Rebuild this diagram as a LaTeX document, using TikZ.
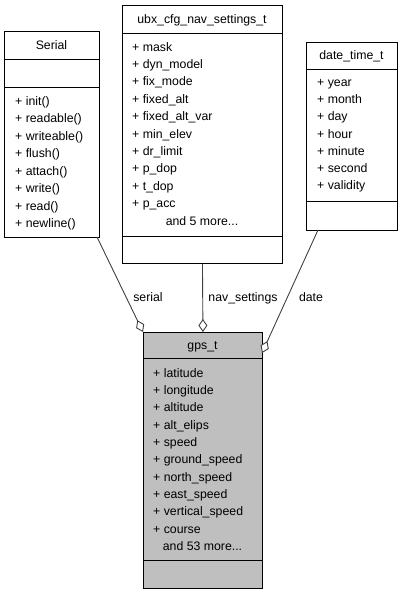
\documentclass[tikz,border=0pt]{standalone}
\usepackage{fontspec}
\setmainfont{Liberation Sans}
\usetikzlibrary{arrows.meta}
\definecolor{gpsgray}{HTML}{BFBFBF}
\definecolor{edgegray}{HTML}{404040}
\begin{document}
\begin{tikzpicture}[x=1pt,y=-1pt,
  sect/.style={draw=black, line width=0.9pt, fill=white, inner sep=0pt, anchor=north west},
  gsect/.style={sect, fill=gpsgray},
  item/.style={font=\fontsize{12.3}{14}\selectfont, inner sep=0pt, anchor=base west},
  ttl/.style={font=\fontsize{12.3}{14}\selectfont, inner sep=0pt, anchor=base},
  lbl/.style={font=\fontsize{12.3}{14}\selectfont, inner sep=0pt, anchor=base},
  assoc/.style={draw=edgegray, line width=0.9pt, {Diamond[open,length=13pt,width=9pt,fill=white]}-}
]
\useasboundingbox (0,0) rectangle (403,595);

% Serial
\node[sect, minimum width=95pt, minimum height=28pt] (serT) at (4,31) {};
\node[sect, minimum width=95pt, minimum height=28pt] (serA) at (4,59) {};
\node[sect, minimum width=95pt, minimum height=150pt] (serO) at (4,87) {};
\node[ttl] (serTt) at (51.5,49.5) {Serial};
\foreach \t [count=\i] in {init(),readable(),writeable(),flush(),attach(),write(),read(),newline()}
  \node[item] (serI\i) at (15,{105+(\i-1)*17.5}) {+ \t};

% ubx_cfg_nav_settings_t
\node[sect, minimum width=160pt, minimum height=28pt] (ubxT) at (122,5) {};
\node[sect, minimum width=160pt, minimum height=203pt] (ubxA) at (122,33) {};
\node[sect, minimum width=160pt, minimum height=27pt] (ubxO) at (122,236) {};
\node[ttl] (ubxTt) at (202,23.5) {ubx\_cfg\_nav\_settings\_t};
\foreach \t [count=\i] in {mask,dyn\_model,fix\_mode,fixed\_alt,fixed\_alt\_var,min\_elev,dr\_limit,p\_dop,t\_dop,p\_acc}
  \node[item] (ubxI\i) at (132,{51+(\i-1)*17.4}) {+ \t};
\node[ttl] (ubxM) at (202,225) {and 5 more...};

% date_time_t
\node[sect, minimum width=91pt, minimum height=27pt] (datT) at (306,42) {};
\node[sect, minimum width=91pt, minimum height=132pt] (datA) at (306,69) {};
\node[sect, minimum width=91pt, minimum height=29pt] (datO) at (306,201) {};
\node[ttl] (datTt) at (351.5,59.5) {date\_time\_t};
\foreach \t [count=\i] in {year,month,day,hour,minute,second,validity}
  \node[item] (datI\i) at (317,{86.5+(\i-1)*17.2}) {+ \t};

% gps_t
\node[gsect, minimum width=119pt, minimum height=26pt] (gpsT) at (143,332) {};
\node[gsect, minimum width=119pt, minimum height=202pt] (gpsA) at (143,358) {};
\node[gsect, minimum width=119pt, minimum height=28pt] (gpsO) at (143,560) {};
\node[ttl] (gpsTt) at (202.5,349.5) {gps\_t};
\foreach \t [count=\i] in {latitude,longitude,altitude,alt\_elips,speed,ground\_speed,north\_speed,east\_speed,vertical\_speed,course}
  \node[item] (gpsI\i) at (153,{377+(\i-1)*17.37}) {+ \t};
\node[ttl] (gpsM) at (202.5,550.5) {and 53 more...};

% connectors
\coordinate (serEnd) at (97,237);
\coordinate (datEnd) at (318,230);
\coordinate (gpsR) at (262,353);
\draw[assoc] (gpsT.north west) -- (serEnd);
\draw[assoc] (gpsT.north) -- (ubxO.south);
\draw[assoc] (gpsR) -- (datEnd);

\node[lbl] (lSer) at (148,301) {serial};
\node[lbl] (lNav) at (243,301) {nav\_settings};
\node[lbl] (lDat) at (311,301) {date};
\end{tikzpicture}
\end{document}
